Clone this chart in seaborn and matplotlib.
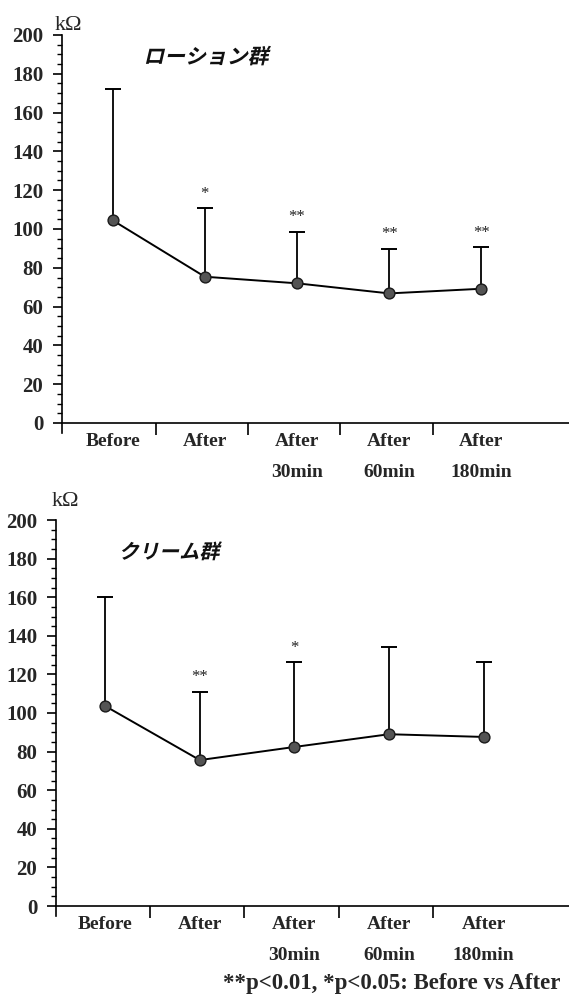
import numpy as np
import pandas as pd
import matplotlib
matplotlib.use("Agg")
import matplotlib.pyplot as plt
from matplotlib.patheffects import AbstractPathEffect
from matplotlib.transforms import Affine2D
import seaborn as sns

# ---- data ----
categories = ["Before", "After", "After\n30min", "After\n60min", "After\n180min"]
lotion_mean = [104.5, 75.4, 72.0, 66.8, 69.2]
lotion_sd = [67.5, 35.3, 26.6, 23.0, 21.4]
lotion_sig = ["", "*", "**", "**", "**"]
cream_mean = [103.6, 75.6, 82.4, 89.0, 87.6]
cream_sd = [56.4, 35.4, 44.0, 45.0, 38.9]
cream_sig = ["", "**", "*", "", ""]
titles = ["ローション群", "クリーム群"]
unit_label = "kΩ"
footnote = "**p<0.01, *p<0.05: Before vs After"
y_ticks = [0, 20, 40, 60, 80, 100, 120, 140, 160, 180, 200]

sns.set_theme(style="white")
plt.rcParams["font.family"] = ["Liberation Serif", "DejaVu Serif"]

W, H = 569, 999
fig = plt.figure(figsize=(W / 100, H / 100), dpi=100)

SERIF = ["Liberation Serif", "DejaVu Serif"]
JP = ["Noto Sans CJK JP", "DejaVu Sans"]


class Slant(AbstractPathEffect):
    """Draw text glyphs with an oblique slant (fake italic)."""

    def __init__(self, deg=13):
        super().__init__()
        self.deg = deg

    def draw_path(self, renderer, gc, tpath, affine, rgbFace=None):
        renderer.draw_path(gc, tpath, Affine2D().skew_deg(self.deg, 0) + affine,
                           rgbFace)


panels = [
    dict(mean=lotion_mean, sd=lotion_sd, sig=lotion_sig, title=titles[0],
         spine=62, p0=112.6, sp=92.2, y0=423, y200=35,
         title_xy=(206, 57), title_fs=15, unit_xy=(55, 30)),
    dict(mean=cream_mean, sd=cream_sd, sig=cream_sig, title=titles[1],
         spine=56, p0=105.2, sp=94.6, y0=906, y200=520,
         title_xy=(169, 552), title_fs=14.5, unit_xy=(52, 506)),
]

for p in panels:
    pxu = (p["y0"] - p["y200"]) / 200.0
    ybot_px = p["y0"] + 5 * pxu
    left = p["spine"] / W
    bottom = 1 - ybot_px / H
    height = (ybot_px - p["y200"]) / H
    xl = -(p["p0"] - p["spine"]) / p["sp"]
    xr = 4 + (W - (p["p0"] + 4 * p["sp"])) / p["sp"]
    ax = fig.add_axes([left, bottom, 1 - left, height])

    x = np.arange(len(categories))
    df = pd.DataFrame({"x": x, "mean": p["mean"], "sd": p["sd"]})

    eb = ax.errorbar(df["x"], df["mean"], yerr=[np.zeros(len(df)), df["sd"]],
                     fmt="none", ecolor="black", elinewidth=1.3, capsize=6,
                     capthick=1.4, zorder=2)
    eb[1][0].set_visible(False)  # hide lower caps (upper-only SD bars)
    sns.lineplot(data=df, x="x", y="mean", ax=ax, color="black", linewidth=1.4,
                 marker="o", markersize=7.8, markerfacecolor="#545454",
                 markeredgecolor="#1a1a1a", markeredgewidth=1.0, zorder=3,
                 legend=False)

    for xi, m, s, star in zip(df["x"], df["mean"], df["sd"], p["sig"]):
        if star:
            ax.annotate(star, (xi, m + s), xytext=(0, 7.5),
                        textcoords="offset points", ha="center", va="baseline",
                        fontsize=12, family=SERIF, color="#222222")

    ax.set_xlim(xl, xr)
    ax.set_ylim(-5, 200)
    ax.set_xlabel("")
    ax.set_ylabel("")
    ax.spines["top"].set_visible(False)
    ax.spines["right"].set_visible(False)
    ax.spines["bottom"].set_position(("data", 0))
    for s in ("left", "bottom"):
        ax.spines[s].set_linewidth(1.2)
        ax.spines[s].set_color("black")

    ax.set_yticks(y_ticks)
    ax.set_yticklabels([str(t) for t in y_ticks], fontsize=15,
                       fontweight="bold", family=SERIF)
    ax.set_yticks(np.arange(0, 201, 5), minor=True)
    ax.tick_params(axis="y", which="major", direction="out", length=6.5,
                   width=1.2, pad=7, left=True, color="black")
    ax.tick_params(axis="y", which="minor", direction="out", length=3.5,
                   width=1.0, left=True, color="black")

    ax.set_xticks(x[:-1] + 0.47)
    ax.set_xticklabels([])
    ax.set_xticks(x, minor=True)
    ax.set_xticklabels(categories, minor=True, fontsize=14, fontweight="bold",
                       family=SERIF, linespacing=2.1, va="top")
    ax.tick_params(axis="x", which="major", direction="out", length=8.5,
                   width=1.2, bottom=True, color="black")
    ax.tick_params(axis="x", which="minor", length=0, pad=7, bottom=True)
    ax.grid(False)

    fig.text(p["title_xy"][0] / W, 1 - p["title_xy"][1] / H, p["title"],
             ha="center", va="center", fontsize=p["title_fs"],
             fontweight="bold", family=JP, color="#111111",
             path_effects=[Slant(13)])
    fig.text(p["unit_xy"][0] / W, 1 - p["unit_xy"][1] / H, unit_label,
             ha="left", va="baseline", fontsize=16, family=SERIF)

fig.text(560 / W, 1 - 983 / H, footnote, ha="right", va="center",
         fontsize=16.5, fontweight="bold", family=SERIF)

fig.savefig("out.png", dpi=100)
